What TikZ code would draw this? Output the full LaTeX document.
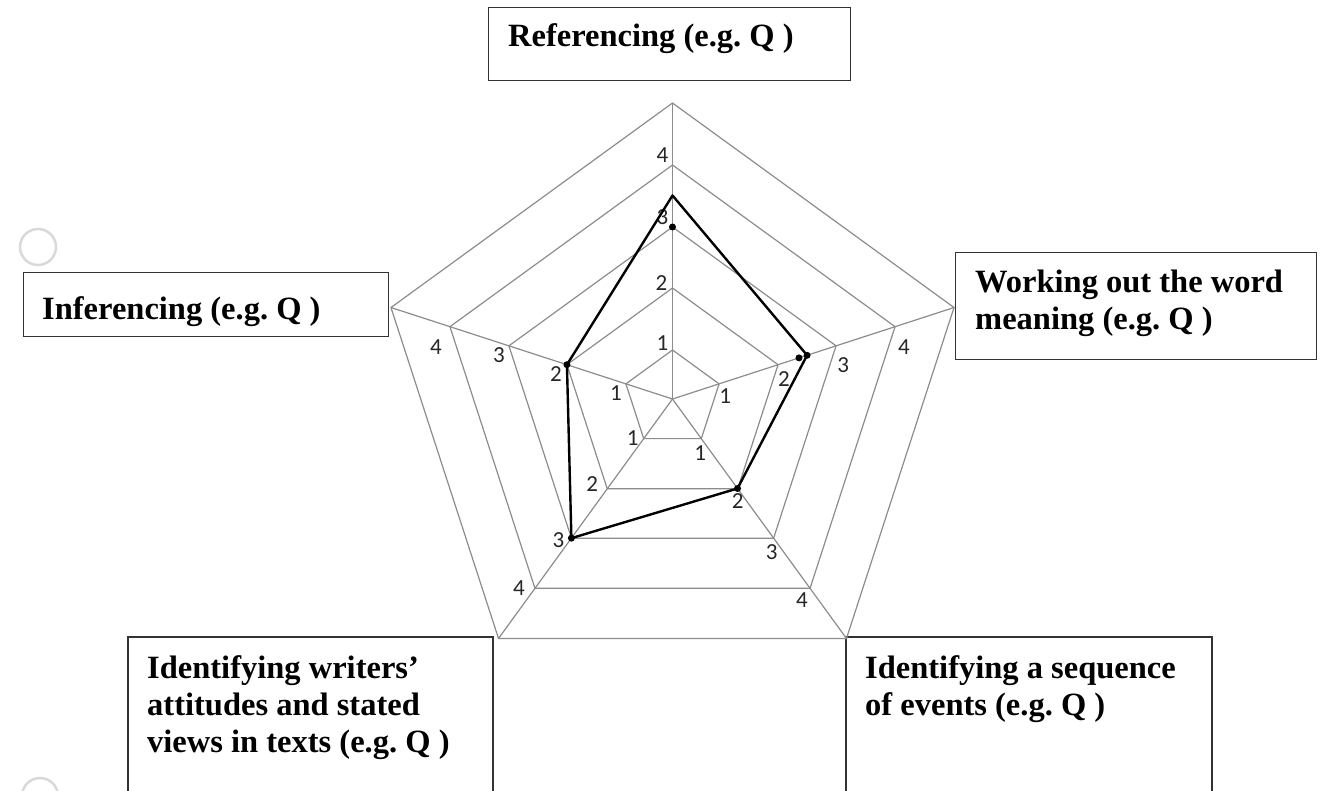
\documentclass[tikz,border=0pt]{standalone}
\usepackage{fontspec}
\usetikzlibrary{calc}
\setmainfont{Liberation Serif}
\newfontfamily\numfont{Carlito}
\frenchspacing
\begin{document}
\begin{tikzpicture}[x=1pt,y=-1pt,
  gridline/.style={draw=black!45,line width=1.2pt},
  scoreline/.style={draw=black,line width=2.4pt,line join=round},
  scoredot/.style={fill=black,circle,inner sep=0pt,minimum size=7pt},
  catbox/.style={draw=black!80,line width=1.1pt},
  cattext/.style={inner sep=0pt,anchor=base west,
    font=\fontsize{32.5}{37}\selectfont\bfseries},
  ticklabel/.style={inner sep=0pt,text=black!85,font=\numfont\fontsize{23}{23}\selectfont},
  punch/.style={draw=black!15,line width=2.5pt}]
\useasboundingbox (0,0) rectangle (1323,791);
\clip (0,0) rectangle (1323,791);

% faint punched holes in the margin
\draw[punch] (38,247) circle[radius=18];
\draw[punch] (40,796) circle[radius=18];

% category boxes
\node[catbox,minimum width=362,minimum height=73,anchor=north west,inner sep=0pt] (refbox) at (488,7) {};
\node[cattext] (reftext) at (508,47) {Referencing (e.g. Q )};

\node[catbox,minimum width=365,minimum height=64,anchor=north west,inner sep=0pt] (infbox) at (23,272) {};
\node[cattext] (inftext) at (42,320) {Inferencing (e.g. Q )};

\node[catbox,minimum width=361,minimum height=107,anchor=north west,inner sep=0pt] (wordbox) at (955,252) {};
\node[cattext] (wordtext) at (975,293)
  {\vtop{\hbox{Working out the word}\hbox{meaning (e.g. Q )}}};

\coordinate (attA) at (128,791);
\coordinate (attB) at (128,637);
\coordinate (attC) at (493,637);
\coordinate (attD) at (493,791);
\draw[catbox] (attA) -- (attB) -- (attC) -- (attD);
\node[cattext] (atttext) at (147,678)
  {\vtop{\hbox{Identifying writers’}\hbox{attitudes and stated}\hbox{views in texts (e.g. Q )}}};

\coordinate (seqA) at (846,791);
\coordinate (seqB) at (846,637);
\coordinate (seqC) at (1212,637);
\coordinate (seqD) at (1212,791);
\draw[catbox] (seqA) -- (seqB) -- (seqC) -- (seqD);
\node[cattext] (seqtext) at (865,678)
  {\vtop{\hbox{Identifying a sequence}\hbox{of events (e.g. Q )}}};

% radar grid: five rings and five spokes
\begin{scope}[shift={(672.5,399)}]
  \coordinate (O) at (0,0);
  \foreach \r in {49,111,172,234,296}{
    \draw[gridline] (-90:\r) -- (-18:\r) -- (54:\r) -- (126:\r) -- (198:\r) -- cycle;
  }
  \foreach \a/\n in {-90/top,-18/right,54/lowright,126/lowleft,198/left}{
    \coordinate (\n) at (\a:296);
    \draw[gridline] (O) -- (\n);
  }

  % scale numbers on each spoke
  \foreach \a/\r/\dx/\dy/\t/\n in {
      -90/49/-10/-7/1/ta, -90/111/-11/-5/2/tb, -90/172/-10/-10/3/tc, -90/234/-10/-10/4/td,
      198/49/-10/9/1/la, 198/111/-11/9/2/lb, 198/172/-10/9/3/lc, 198/234/-14/20/4/ld,
      126/49/-11/-1/1/ba, 126/111/-15/-5/2/bb, 126/172/-13/2/3/bc, 126/234/-16/0/4/bd,
      54/49/-1/14/1/ca, 54/111/0/12/2/cb, 54/172/-2/14/3/cc, 54/234/-8/12/4/cd,
      -18/49/6/12/1/ra, -18/111/6/14/2/rb, -18/172/7/19/3/rc, -18/234/9/20/4/rd}{
    \node[ticklabel] (lab\n) at ($(\a:\r)+(\dx,\dy)$) {\t};
  }

  % scores
  \coordinate (d1) at (-90:203.5);
  \coordinate (d2) at (-18:141.5);
  \coordinate (d3) at (54:110.6);
  \coordinate (d4) at (126:172);
  \coordinate (d5) at (198:111);
  \draw[scoreline] (d1) -- (d2) -- (d3) -- (d4) -- (d5) -- cycle;
  \node[scoredot] (p1) at (-90:172) {};
  \node[scoredot] (p2) at (d2) {};
  \node[scoredot] (p2b) at (-18:133) {};
  \node[scoredot] (p3) at (d3) {};
  \node[scoredot] (p4) at (d4) {};
  \node[scoredot] (p5) at (d5) {};
\end{scope}
\end{tikzpicture}
\end{document}
